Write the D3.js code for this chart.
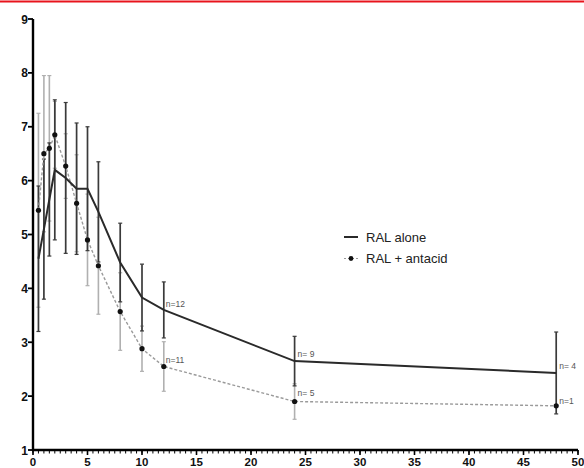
<!DOCTYPE html>
<html><head><meta charset="utf-8">
<script src="https://cdn.jsdelivr.net/npm/d3@7"></script>
<style>body{margin:0;background:#fff}svg{display:block}</style>
</head><body><svg id="c" width="584" height="468"></svg>
<script>
const times = [0.5,1,1.5,2,3,4,5,6,8,10,12,24,48];
const ralAlone = [4.55,5.1,5.65,6.2,6.05,5.85,5.85,5.42,4.48,3.83,3.6,2.65,2.43];
const ralAloneErr = [1.35,1.3,1.05,1.3,1.4,1.22,1.15,0.93,0.73,0.62,0.52,0.46,0.76];
const ralAntacid = [5.45,6.5,6.6,6.85,6.27,5.58,4.9,4.42,3.57,2.88,2.55,1.9,1.82];
const ralAntacidErr = [1.8,1.45,1.35,0.62,0.6,0.9,0.85,0.9,0.72,0.42,0.46,0.33,0];
const xTicks = [0,5,10,15,20,25,30,35,40,45,50];
const yTicks = [1,2,3,4,5,6,7,8,9];
const seriesNames = ["RAL alone","RAL + antacid"];
const nLabels = [
  {series:0, t:12, text:"n=12"},
  {series:1, t:12, text:"n=11"},
  {series:0, t:24, text:"n= 9"},
  {series:1, t:24, text:"n= 5"},
  {series:0, t:48, text:"n= 4"},
  {series:1, t:48, text:"n=1"}
];

const svg = d3.select("#c");
const x = d3.scaleLinear().domain([0,50]).range([33,578]);
const y = d3.scaleLinear().domain([1,9]).range([450,19]);

// red top line
svg.append("line").attr("x1",0).attr("x2",584).attr("y1",1.5).attr("y2",1.5)
  .attr("stroke","#e8141c").attr("stroke-width",2);

const A = times.map((t,i)=>({t, v:ralAlone[i], e:ralAloneErr[i]}));
const B = times.map((t,i)=>({t, v:ralAntacid[i], e:ralAntacidErr[i]}));

function errBars(data, color, w){
  const g = svg.append("g").attr("stroke",color).attr("stroke-width",w);
  data.filter(d=>d.e>0).forEach(d=>{
    const cx = x(d.t);
    g.append("line").attr("x1",cx).attr("x2",cx).attr("y1",y(d.v-d.e)).attr("y2",y(d.v+d.e));
    [d.v-d.e, d.v+d.e].forEach(v=>{
      g.append("line").attr("x1",cx-2).attr("x2",cx+2).attr("y1",y(v)).attr("y2",y(v)).attr("stroke-width",1.2);
    });
  });
}
errBars(B, "#b0b0b0", 1.6);
errBars(A, "#3a3a3a", 1.7);

const line = d3.line().x(d=>x(d.t)).y(d=>y(d.v));
svg.append("path").datum(B).attr("d",line).attr("fill","none")
  .attr("stroke","#9a9a9a").attr("stroke-width",1.4).attr("stroke-dasharray","3,2");
svg.append("path").datum(A).attr("d",line).attr("fill","none")
  .attr("stroke","#2a2a2a").attr("stroke-width",2);
svg.append("g").selectAll("circle").data(B).join("circle")
  .attr("cx",d=>x(d.t)).attr("cy",d=>y(d.v)).attr("r",2.6).attr("fill","#111");

// axes
const ax = svg.append("g");
ax.append("line").attr("x1",x(0)).attr("x2",x(0)).attr("y1",y(9)).attr("y2",y(1)+1)
  .attr("stroke","#000").attr("stroke-width",2.4);
ax.append("line").attr("x1",x(0)-1).attr("x2",x(50)).attr("y1",y(1)).attr("y2",y(1))
  .attr("stroke","#000").attr("stroke-width",2.4);
const minor = d3.range(0,50.01,0.5);
ax.selectAll(".mx").data(minor).join("line")
  .attr("x1",d=>x(d)).attr("x2",d=>x(d)).attr("y1",y(1)).attr("y2",y(1)+3.5)
  .attr("stroke","#000").attr("stroke-width",1);
ax.selectAll(".Mx").data(xTicks).join("line")
  .attr("x1",d=>x(d)).attr("x2",d=>x(d)).attr("y1",y(1)).attr("y2",y(1)+5)
  .attr("stroke","#000").attr("stroke-width",1.6);
ax.selectAll(".My").data(yTicks).join("line")
  .attr("x1",x(0)-5).attr("x2",x(0)).attr("y1",d=>y(d)).attr("y2",d=>y(d))
  .attr("stroke","#000").attr("stroke-width",1.8);
ax.selectAll(".xl").data(xTicks).join("text")
  .attr("x",d=>x(d)).attr("y",466).attr("text-anchor","middle")
  .attr("font-family","Liberation Sans, Arial, sans-serif").attr("font-weight","bold")
  .attr("font-size",11.5).attr("fill","#111").text(d=>d);
ax.selectAll(".yl").data(yTicks).join("text")
  .attr("x",x(0)-5).attr("y",d=>y(d)+4.5).attr("text-anchor","end")
  .attr("font-family","Liberation Sans, Arial, sans-serif").attr("font-weight","bold")
  .attr("font-size",12).attr("fill","#111").text(d=>d);

// n labels
const nOff = {"0-12":[2,-3],"1-12":[2,-3],"0-24":[3,-4],"1-24":[3,-6],"0-48":[3,-4],"1-48":[3,-2]};
svg.append("g").selectAll("text").data(nLabels).join("text")
  .attr("x",d=>x(d.t)+nOff[d.series+"-"+d.t][0])
  .attr("y",d=>y((d.series?ralAntacid:ralAlone)[times.indexOf(d.t)])+nOff[d.series+"-"+d.t][1])
  .attr("font-family","Liberation Sans, Arial, sans-serif").attr("font-size",8.5)
  .attr("fill","#555").text(d=>d.text);

// legend
const lg = svg.append("g").attr("font-family","Liberation Sans, Arial, sans-serif")
  .attr("font-size",13).attr("fill","#222");
lg.append("line").attr("x1",344).attr("x2",358).attr("y1",237).attr("y2",237)
  .attr("stroke","#2a2a2a").attr("stroke-width",2);
lg.append("line").attr("x1",344).attr("x2",358).attr("y1",258.5).attr("y2",258.5)
  .attr("stroke","#9a9a9a").attr("stroke-width",1.2).attr("stroke-dasharray","2,2");
lg.append("circle").attr("cx",351).attr("cy",258.5).attr("r",2.4).attr("fill","#111");
lg.selectAll("text").data(seriesNames).join("text")
  .attr("x",366).attr("y",(d,i)=>241.5+i*21.5).text(d=>d);
</script></body></html>
